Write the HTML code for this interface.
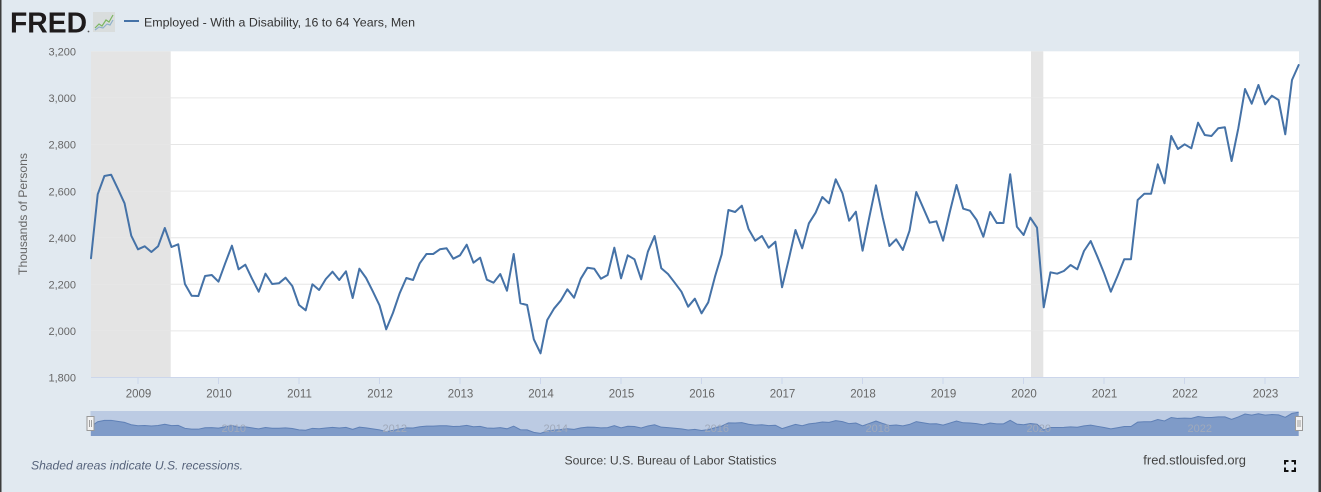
<!DOCTYPE html>
<html>
<head>
<meta charset="utf-8">
<style>
  html, body { margin:0; padding:0; background:#e1e9f0; }
  svg { display:block; }
  text { font-family:"Liberation Sans", Arial, sans-serif; }
</style>
</head>
<body>
<svg width="1321" height="492" viewBox="0 0 1321 492" xmlns="http://www.w3.org/2000/svg">
  <rect x="0" y="0" width="1321" height="492" fill="#e1e9f0"/>
  <!-- borders -->
  <rect x="0" y="0" width="1.5" height="492" fill="#3d3d3d"/>
  <rect x="1318.5" y="0" width="2.5" height="492" fill="#3d3d3d"/>

  <!-- header -->
  <text x="10" y="32.5" font-size="28.6" font-weight="bold" fill="#1e1b1c" textLength="77" lengthAdjust="spacingAndGlyphs">FRED</text>
  <circle cx="88.5" cy="31.5" r="0.9" fill="#555"/>
  <rect x="93" y="12" width="22" height="20" fill="#d9dddd"/>
  <polyline points="95,28 99,24 102,26 106,20 109,22 113,15" fill="none" stroke="#7bb661" stroke-width="1.2"/>
  <polyline points="95,30 99,27 103,28 107,24 110,25 113,20" fill="none" stroke="#8fb0c9" stroke-width="1.2"/>
  <line x1="124" y1="21" x2="139" y2="21" stroke="#4572a7" stroke-width="2"/>
  <text x="144" y="26.3" font-size="12.3" fill="#333" textLength="271" lengthAdjust="spacingAndGlyphs">Employed - With a Disability, 16 to 64 Years, Men</text>

  <!-- plot background -->
  <rect x="91" y="51.3" width="1208" height="326.2" fill="#ffffff"/>
  <!-- recessions -->
  <rect x="91" y="51.3" width="79.7" height="326.2" fill="#e4e4e4"/>
  <rect x="1031" y="51.3" width="12.3" height="326.2" fill="#e4e4e4"/>

  <!-- gridlines -->
  <g stroke="#e6e6e6" stroke-width="1">
    <line x1="91" x2="1299" y1="97.9" y2="97.9"/>
    <line x1="91" x2="1299" y1="144.5" y2="144.5"/>
    <line x1="91" x2="1299" y1="191.1" y2="191.1"/>
    <line x1="91" x2="1299" y1="237.7" y2="237.7"/>
    <line x1="91" x2="1299" y1="284.3" y2="284.3"/>
    <line x1="91" x2="1299" y1="330.9" y2="330.9"/>
  </g>
  <line x1="91" x2="1299" y1="377.5" y2="377.5" stroke="#ccd6eb" stroke-width="1"/>

  <!-- y labels -->
  <g font-size="11" fill="#666" text-anchor="end">
    <text x="76" y="55.5">3,200</text>
    <text x="76" y="102.1">3,000</text>
    <text x="76" y="148.7">2,800</text>
    <text x="76" y="195.3">2,600</text>
    <text x="76" y="241.9">2,400</text>
    <text x="76" y="288.5">2,200</text>
    <text x="76" y="335.1">2,000</text>
    <text x="76" y="381.7">1,800</text>
  </g>
  <text transform="translate(26.8,214) rotate(-90)" font-size="12" fill="#666" text-anchor="middle" textLength="122" lengthAdjust="spacingAndGlyphs">Thousands of Persons</text>

  <!-- x ticks -->
  <g stroke="#ccd6eb" stroke-width="1">
    <line x1="138" x2="138" y1="377.5" y2="384"/>
    <line x1="218.5" x2="218.5" y1="377.5" y2="384"/>
    <line x1="299" x2="299" y1="377.5" y2="384"/>
    <line x1="379.5" x2="379.5" y1="377.5" y2="384"/>
    <line x1="460" x2="460" y1="377.5" y2="384"/>
    <line x1="540.5" x2="540.5" y1="377.5" y2="384"/>
    <line x1="621" x2="621" y1="377.5" y2="384"/>
    <line x1="701.5" x2="701.5" y1="377.5" y2="384"/>
    <line x1="782" x2="782" y1="377.5" y2="384"/>
    <line x1="862.5" x2="862.5" y1="377.5" y2="384"/>
    <line x1="943" x2="943" y1="377.5" y2="384"/>
    <line x1="1023.5" x2="1023.5" y1="377.5" y2="384"/>
    <line x1="1104" x2="1104" y1="377.5" y2="384"/>
    <line x1="1184.5" x2="1184.5" y1="377.5" y2="384"/>
    <line x1="1265" x2="1265" y1="377.5" y2="384"/>
  </g>
  <g font-size="11.5" fill="#666" text-anchor="middle">
    <text x="138.5" y="397.5">2009</text>
    <text x="219" y="397.5">2010</text>
    <text x="299.5" y="397.5">2011</text>
    <text x="380" y="397.5">2012</text>
    <text x="460.5" y="397.5">2013</text>
    <text x="541" y="397.5">2014</text>
    <text x="621.5" y="397.5">2015</text>
    <text x="702" y="397.5">2016</text>
    <text x="782.5" y="397.5">2017</text>
    <text x="863" y="397.5">2018</text>
    <text x="943.5" y="397.5">2019</text>
    <text x="1024" y="397.5">2020</text>
    <text x="1104.5" y="397.5">2021</text>
    <text x="1185" y="397.5">2022</text>
    <text x="1265.5" y="397.5">2023</text>
  </g>

  <!-- main series -->
  <polyline transform="translate(91,0) scale(6.7094,1)" vector-effect="non-scaling-stroke" fill="none" stroke="#4572a7" stroke-width="2" stroke-linejoin="round" stroke-linecap="round"
    points="0,258.3 1,194.3 2,176 3,174.7 4,188.7 5,203.3 6,235.7 7,249.3 8,246.3 9,252 10,246.3 11,228 12,247 13,244.3 14,284 15,295.7 16,296 17,276 18,275 19,281.7 20,263.3 21,245.7 22,269.3 23,264.7 24,278.7 25,291.7 26,273.7 27,284 28,283.3 29,277.7 30,286 31,305 32,310.3 33,284.3 34,290 35,279 36,271.7 37,280 38,271.3 39,298 40,268.7 41,278 42,291.3 43,305.3 44,329.3 45,313 46,293.3 47,278 48,280 49,263.3 50,254 51,254 52,249.3 53,248.3 54,258.7 55,255.3 56,244.7 57,262.7 58,257.7 59,279.7 60,282.7 61,274 62,290.7 63,254 64,303.3 65,305 66,339.3 67,353.3 68,320 69,308.7 70,300.7 71,289.3 72,297.7 73,278.7 74,267.7 75,268.7 76,278.7 77,275 78,247.7 79,278.3 80,255.3 81,259.3 82,279.3 83,251.7 84,236 85,268.3 86,274 87,282.7 88,291.7 89,306.7 90,298.7 91,313.3 92,302.3 93,276.7 94,254.3 95,210 96,212 97,205.7 98,229 99,240.7 100,236 101,247.7 102,241.7 103,287.3 104,259.3 105,230 106,248.3 107,223.3 108,212.7 109,197 110,203.3 111,179.3 112,193.3 113,220.7 114,211.7 115,250.7 116,217.3 117,185.3 118,217.3 119,246 120,239.3 121,250 122,230.7 123,192 124,207.3 125,222.7 126,221.3 127,240.7 128,212 129,185 130,208.7 131,210.7 132,220 133,236.7 134,212 135,223 136,223 137,174.3 138,226.7 139,235 140,217.7 141,227.7 142,307.3 143,272.3 144,273.7 145,271 146,265 147,269.3 148,251 149,241 150,256.7 151,273.3 152,291.7 153,276 154,259.3 155,259.3 156,200 157,193.7 158,193.7 159,164.3 160,183.3 161,136 162,149 163,144.3 164,148.3 165,122.7 166,135 167,136 168,128.3 169,127.3 170,161 171,128.3 172,89 173,103.7 174,85 175,104.3 176,95.7 177,100 178,134.3 179,80 180,65"/>

  <!-- navigator -->
  <rect x="90.5" y="411" width="1208" height="25" fill="#bccbe3"/>
  <polygon transform="translate(91,407.54) scale(6.7094,0.07313)" fill="#7f9bc8"
    points="0,258.3 1,194.3 2,176 3,174.7 4,188.7 5,203.3 6,235.7 7,249.3 8,246.3 9,252 10,246.3 11,228 12,247 13,244.3 14,284 15,295.7 16,296 17,276 18,275 19,281.7 20,263.3 21,245.7 22,269.3 23,264.7 24,278.7 25,291.7 26,273.7 27,284 28,283.3 29,277.7 30,286 31,305 32,310.3 33,284.3 34,290 35,279 36,271.7 37,280 38,271.3 39,298 40,268.7 41,278 42,291.3 43,305.3 44,329.3 45,313 46,293.3 47,278 48,280 49,263.3 50,254 51,254 52,249.3 53,248.3 54,258.7 55,255.3 56,244.7 57,262.7 58,257.7 59,279.7 60,282.7 61,274 62,290.7 63,254 64,303.3 65,305 66,339.3 67,353.3 68,320 69,308.7 70,300.7 71,289.3 72,297.7 73,278.7 74,267.7 75,268.7 76,278.7 77,275 78,247.7 79,278.3 80,255.3 81,259.3 82,279.3 83,251.7 84,236 85,268.3 86,274 87,282.7 88,291.7 89,306.7 90,298.7 91,313.3 92,302.3 93,276.7 94,254.3 95,210 96,212 97,205.7 98,229 99,240.7 100,236 101,247.7 102,241.7 103,287.3 104,259.3 105,230 106,248.3 107,223.3 108,212.7 109,197 110,203.3 111,179.3 112,193.3 113,220.7 114,211.7 115,250.7 116,217.3 117,185.3 118,217.3 119,246 120,239.3 121,250 122,230.7 123,192 124,207.3 125,222.7 126,221.3 127,240.7 128,212 129,185 130,208.7 131,210.7 132,220 133,236.7 134,212 135,223 136,223 137,174.3 138,226.7 139,235 140,217.7 141,227.7 142,307.3 143,272.3 144,273.7 145,271 146,265 147,269.3 148,251 149,241 150,256.7 151,273.3 152,291.7 153,276 154,259.3 155,259.3 156,200 157,193.7 158,193.7 159,164.3 160,183.3 161,136 162,149 163,144.3 164,148.3 165,122.7 166,135 167,136 168,128.3 169,127.3 170,161 171,128.3 172,89 173,103.7 174,85 175,104.3 176,95.7 177,100 178,134.3 179,80 180,65 180,389.2 0,389.2"/>
  <polyline transform="translate(91,407.54) scale(6.7094,0.07313)" vector-effect="non-scaling-stroke" fill="none" stroke="#5f80b6" stroke-width="1"
    points="0,258.3 1,194.3 2,176 3,174.7 4,188.7 5,203.3 6,235.7 7,249.3 8,246.3 9,252 10,246.3 11,228 12,247 13,244.3 14,284 15,295.7 16,296 17,276 18,275 19,281.7 20,263.3 21,245.7 22,269.3 23,264.7 24,278.7 25,291.7 26,273.7 27,284 28,283.3 29,277.7 30,286 31,305 32,310.3 33,284.3 34,290 35,279 36,271.7 37,280 38,271.3 39,298 40,268.7 41,278 42,291.3 43,305.3 44,329.3 45,313 46,293.3 47,278 48,280 49,263.3 50,254 51,254 52,249.3 53,248.3 54,258.7 55,255.3 56,244.7 57,262.7 58,257.7 59,279.7 60,282.7 61,274 62,290.7 63,254 64,303.3 65,305 66,339.3 67,353.3 68,320 69,308.7 70,300.7 71,289.3 72,297.7 73,278.7 74,267.7 75,268.7 76,278.7 77,275 78,247.7 79,278.3 80,255.3 81,259.3 82,279.3 83,251.7 84,236 85,268.3 86,274 87,282.7 88,291.7 89,306.7 90,298.7 91,313.3 92,302.3 93,276.7 94,254.3 95,210 96,212 97,205.7 98,229 99,240.7 100,236 101,247.7 102,241.7 103,287.3 104,259.3 105,230 106,248.3 107,223.3 108,212.7 109,197 110,203.3 111,179.3 112,193.3 113,220.7 114,211.7 115,250.7 116,217.3 117,185.3 118,217.3 119,246 120,239.3 121,250 122,230.7 123,192 124,207.3 125,222.7 126,221.3 127,240.7 128,212 129,185 130,208.7 131,210.7 132,220 133,236.7 134,212 135,223 136,223 137,174.3 138,226.7 139,235 140,217.7 141,227.7 142,307.3 143,272.3 144,273.7 145,271 146,265 147,269.3 148,251 149,241 150,256.7 151,273.3 152,291.7 153,276 154,259.3 155,259.3 156,200 157,193.7 158,193.7 159,164.3 160,183.3 161,136 162,149 163,144.3 164,148.3 165,122.7 166,135 167,136 168,128.3 169,127.3 170,161 171,128.3 172,89 173,103.7 174,85 175,104.3 176,95.7 177,100 178,134.3 179,80 180,65"/>
  <g font-size="11" fill="#a0a9ba">
    <text x="221.5" y="432">2010</text>
    <text x="382.5" y="432">2012</text>
    <text x="543.5" y="432">2014</text>
    <text x="704.5" y="432">2016</text>
    <text x="865.5" y="432">2018</text>
    <text x="1026.5" y="432">2020</text>
    <text x="1187.5" y="432">2022</text>
  </g>
  <!-- handles -->
  <rect x="87" y="416.5" width="7" height="14" fill="#f2f2f2" stroke="#999" stroke-width="1"/>
  <line x1="89.5" x2="89.5" y1="420" y2="427" stroke="#888" stroke-width="0.8"/>
  <line x1="91.5" x2="91.5" y1="420" y2="427" stroke="#888" stroke-width="0.8"/>
  <rect x="1295.5" y="416.5" width="7" height="14" fill="#f2f2f2" stroke="#999" stroke-width="1"/>
  <line x1="1298" x2="1298" y1="420" y2="427" stroke="#888" stroke-width="0.8"/>
  <line x1="1300" x2="1300" y1="420" y2="427" stroke="#888" stroke-width="0.8"/>

  <!-- footer -->
  <text x="31" y="469.3" font-size="12.2" font-style="italic" fill="#56637b" textLength="212" lengthAdjust="spacingAndGlyphs">Shaded areas indicate U.S. recessions.</text>
  <text x="564.5" y="464.3" font-size="12.2" fill="#444" textLength="212" lengthAdjust="spacingAndGlyphs">Source: U.S. Bureau of Labor Statistics</text>
  <text x="1143.3" y="464.3" font-size="12.5" fill="#444" textLength="102.7" lengthAdjust="spacingAndGlyphs">fred.stlouisfed.org</text>
  <g fill="none" stroke="#111" stroke-width="2">
    <path d="M1285,464.5 V461 H1288.5"/>
    <path d="M1291.5,461 H1295 V464.5"/>
    <path d="M1295,467.5 V471 H1291.5"/>
    <path d="M1288.5,471 H1285 V467.5"/>
  </g>
</svg>
</body>
</html>
